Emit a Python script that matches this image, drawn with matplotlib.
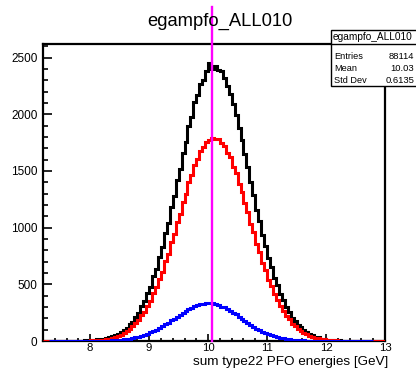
import numpy as np
import matplotlib
matplotlib.use("Agg")
import matplotlib.pyplot as plt
from matplotlib.ticker import MultipleLocator
from matplotlib.patches import Rectangle
from matplotlib.lines import Line2D
import matplotlib.transforms as mtransforms

plt.rcParams['font.family'] = ['Liberation Sans', 'DejaVu Sans']

# ---- data -------------------------------------------------------------
title = "egampfo_ALL010"
x_label = "sum type22 PFO energies [GeV]"

x_lo, x_hi = 7.2, 13.0          # range of the black / red histograms
blue_lo, blue_hi = 7.3, 12.8    # range of the blue histogram
marker_x = 10.06                # vertical reference line

black_counts = [
    0, 0, 0, 1, 0, 1, 0, 1, 1, 2, 1, 3, 2,
    4, 5, 7, 9, 12, 14, 18, 22, 27, 33, 41, 52,
    63, 78, 99, 117, 146, 172, 214, 249, 305, 351, 422, 480,
    571, 639, 745, 829, 951, 1043, 1178, 1276, 1419, 1518, 1662, 1758,
    1896, 1978, 2104, 2166, 2271, 2305, 2382, 2455, 2398, 2427, 2389, 2378,
    2318, 2251, 2183, 2087, 1992, 1881, 1769, 1648, 1532, 1401, 1290, 1160,
    1057, 935, 842, 731, 652, 557, 492, 411, 362, 297, 257, 206,
    179, 140, 121, 93, 80, 59, 51, 37, 32, 22, 19, 13,
    10, 9, 5, 5, 3, 2, 2, 1,
    1, 0, 1, 0, 0, 1, 0, 0, 0, 0, 0,
]

red_counts = [
    0, 1, 0, 0, 1, 0, 1, 0, 1, 1, 0, 1, 2,
    2, 3, 4, 5, 7, 9, 11, 13, 19, 22, 30, 35,
    47, 56, 73, 85, 109, 128, 159, 185, 226, 260, 313, 356,
    421, 474, 551, 612, 703, 770, 871, 943, 1050, 1122, 1230, 1299,
    1402, 1463, 1555, 1603, 1676, 1707, 1758, 1769, 1795, 1781, 1783, 1745,
    1724, 1660, 1619, 1539, 1480, 1386, 1316, 1214, 1139, 1034, 958, 856,
    784, 690, 624, 540, 483, 411, 364, 305, 267, 220, 190, 153,
    132, 105, 89, 69, 58, 45, 37, 28, 24, 17, 14, 11,
    7, 6, 5, 3, 2, 2, 1,
    1, 1, 0, 1, 0, 1, 0, 0, 1, 0, 0, 1,
]

blue_counts = [
    0, 0, 0, 0, 0, 0, 0, 0, 0, 1, 0, 0, 1, 0, 1,
    1, 1, 2, 2, 3, 4, 5, 7, 9, 11, 15, 17,
    22, 27, 33, 39, 47, 55, 66, 75, 88, 99, 115, 128,
    146, 160, 181, 195, 214, 229, 251, 262, 283, 292, 310, 316,
    328, 330, 338, 331, 334, 322, 320, 304, 298, 278, 268, 246,
    234, 209, 197, 174, 161, 138, 127, 107, 97, 80, 73, 58,
    53, 42, 37, 29, 25, 19, 16, 12, 10, 8, 6, 5,
    3, 3, 2, 1, 1, 0, 1, 0, 0, 0, 1, 0,
    0, 0, 0, 0, 0, 0, 0, 0, 0, 0, 0,
]

stats_rows = [("Entries", "88114"), ("Mean", "10.03"), ("Std Dev", "0.6135")]

y_max = 2620

# ---- figure -----------------------------------------------------------
W, H = 416, 369
fig = plt.figure(figsize=(W / 100, H / 100), dpi=100)
fig.patch.set_facecolor("white")

ax_l, ax_r, ax_t, ax_b = 43.0, 385.0, 44.0, 341.0
ax = fig.add_axes([ax_l / W, 1 - ax_b / H, (ax_r - ax_l) / W, (ax_b - ax_t) / H])

edges = np.linspace(x_lo, x_hi, len(black_counts) + 1)
blue_edges = np.linspace(blue_lo, blue_hi, len(blue_counts) + 1)

lw = 2.2
ax.stairs(black_counts, edges, color="black", lw=lw, baseline=None, zorder=2)
ax.stairs(red_counts, edges, color="#ff0000", lw=lw, baseline=None, zorder=3)
ax.stairs(blue_counts, blue_edges, color="#0000ff", lw=lw, baseline=None, zorder=4)

ax.set_xlim(x_lo, x_hi)
ax.set_ylim(0, y_max)

for s in ax.spines.values():
    s.set_linewidth(1.6)
    s.set_zorder(1.5)

ax.xaxis.set_major_locator(MultipleLocator(1))
ax.xaxis.set_minor_locator(MultipleLocator(0.2))
ax.yaxis.set_major_locator(MultipleLocator(500))
ax.yaxis.set_minor_locator(MultipleLocator(100))
ax.tick_params(which="both", direction="in", top=False, right=False,
               width=1.2, labelsize=8.5, colors="black")
ax.tick_params(axis="y", which="major", length=6.5, pad=4)
ax.tick_params(axis="y", which="minor", length=3.5)
ax.tick_params(axis="x", which="major", length=5, pad=1.5)
ax.tick_params(axis="x", which="minor", length=2.5)
ax.tick_params(axis="x", labelsize=8.2)

# vertical reference line, running up through the title area
trans = mtransforms.blended_transform_factory(ax.transData, ax.transAxes)
ax.add_line(Line2D([marker_x, marker_x], [0, (ax_b - 7) / (ax_b - ax_t)],
                   transform=trans, color="#ff00ff", lw=1.7,
                   clip_on=False, zorder=20))

# titles
fig.text(220 / W, 1 - 26 / H, title, ha="center", va="baseline", fontsize=13.2)
fig.text(388 / W, 1 - 362 / H, x_label, ha="right", va="center", fontsize=9.7)

# statistics box
bx0, by0, by1 = 331, 30, 86
fig.add_artist(Rectangle((bx0 / W, 1 - by1 / H), (W + 10 - bx0) / W, (by1 - by0) / H,
                         transform=fig.transFigure, facecolor="white",
                         edgecolor="black", lw=1.0, zorder=30, clip_on=False))
fig.add_artist(Line2D([bx0 / W, 1.02], [1 - 44 / H, 1 - 44 / H],
                      transform=fig.transFigure, color="black", lw=1.0, zorder=31))
fig.text(333 / W, 1 - 37.5 / H, title, ha="left", va="center", fontsize=7.3, zorder=32)
for k, (name, val) in enumerate(stats_rows):
    yy = 1 - (56.5 + 11.8 * k) / H
    fig.text(334 / W, yy, name, ha="left", va="center", fontsize=6.6, zorder=32)
    fig.text(414 / W, yy, val, ha="right", va="center", fontsize=6.8, zorder=32)

fig.savefig("out.png", dpi=100, facecolor="white")
